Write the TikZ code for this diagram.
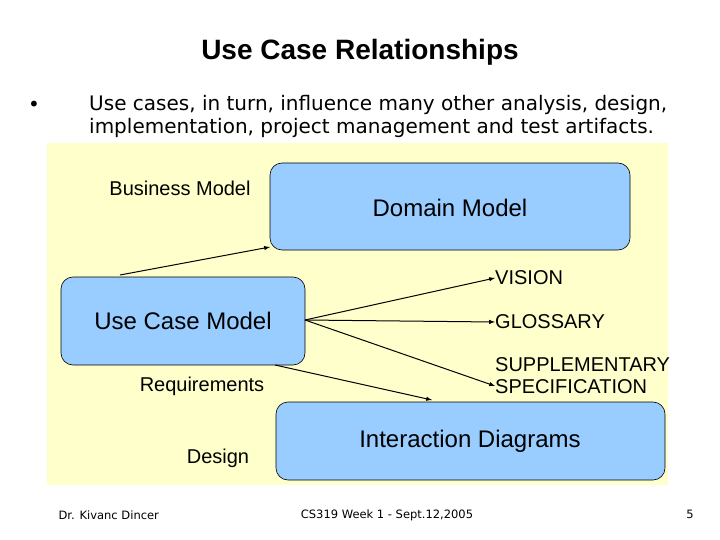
\documentclass[tikz,border=0pt]{standalone}
\usepackage{fontspec}
\setmainfont{Liberation Sans}
\newfontfamily\comic{DejaVu Sans}
\begin{document}
\begin{tikzpicture}[x=1pt,y=-1pt,
  box/.style={draw=black,fill=boxblue,rounded corners=12pt,line width=0.6pt},
  arr/.style={-latex,line width=1pt},
  big/.style={font=\fontsize{24}{28}\selectfont},
  lbl/.style={font=\fontsize{20}{22}\selectfont,align=left,inner sep=0pt},
  foot/.style={font=\comic\fontsize{11.5}{13}\selectfont}]
\definecolor{boxblue}{HTML}{99CCFF}
\definecolor{bgy}{HTML}{FFFFCC}
\useasboundingbox (0,0) rectangle (720,540);
\fill[white] (0,0) rectangle (720,540);
\fill[bgy] (47,143) rectangle (668,485);
\node[font=\bfseries\fontsize{28}{32}\selectfont] (title) at (360,52) {Use Case Relationships};
\node[font=\comic\fontsize{20}{23}\selectfont,inner sep=0pt] (bul) at (34,106) {•};
\node[anchor=north west,font=\comic\fontsize{20}{23}\selectfont,align=left,inner sep=0pt] (btxt) at (89,95) {Use cases, in turn, influence many other analysis, design,\\implementation, project management and test artifacts.};
\path[box] (270,163) rectangle (630,250);
\node[big] (dm) at (450,208) {Domain Model};
\path[box] (61,277) rectangle (305,365);
\node[big] (ucm) at (183,321) {Use Case Model};
\path[box] (276,402) rectangle (665,480);
\node[big] (id) at (470,441) {Interaction Diagrams};
\node[lbl] (bm) at (180,188) {Business Model};
\node[lbl] (req) at (202,386) {Requirements};
\node[lbl] (des) at (218,458) {Design};
\node[lbl,anchor=west] (vis) at (495,278) {VISION};
\node[lbl,anchor=west] (glo) at (495,322) {GLOSSARY};
\node[lbl,anchor=west] (sup) at (495,376) {SUPPLEMENTARY\\SPECIFICATION};
\coordinate (s1) at (120,275);
\coordinate (e1) at (270,247);
\coordinate (s2) at (305,320);
\coordinate (s3) at (275,365);
\coordinate (e3) at (432,400);
\draw[arr] (s1) -- (e1);
\draw[arr] (s2) -- (vis.west);
\draw[arr] (s2) -- (glo.west);
\draw[arr] (s2) -- ([yshift=-10pt]sup.west);
\draw[arr] (s3) -- (e3);
\node[foot,anchor=west] (f1) at (55,515) {Dr. Kivanc Dincer};
\node[foot] (f2) at (387,515) {CS319 Week 1 - Sept.12,2005};
\node[foot] (f3) at (690,514) {5};
\end{tikzpicture}
\end{document}
